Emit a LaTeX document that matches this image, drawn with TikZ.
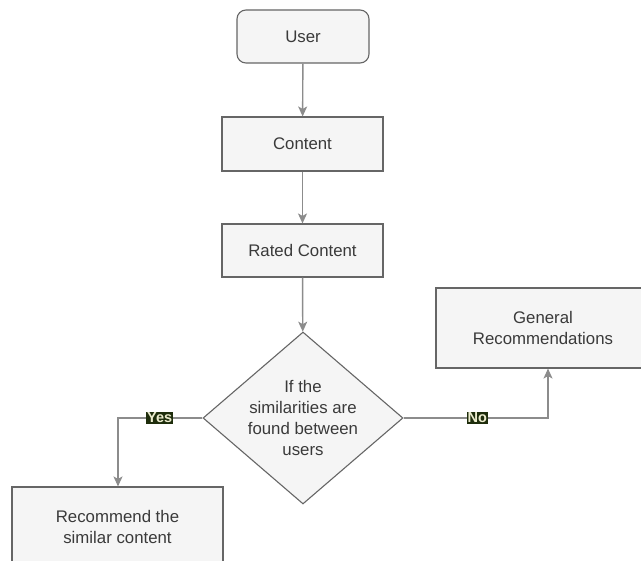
\documentclass[tikz,border=0pt]{standalone}
\usepackage{fontspec}
\setmainfont{Liberation Sans}
\usetikzlibrary{shapes.geometric,arrows.meta}
\definecolor{txt}{HTML}{3A3A3A}
\definecolor{edge}{HTML}{666666}
\definecolor{boxfill}{HTML}{F5F5F5}
\definecolor{wire}{HTML}{8C8C8C}
\definecolor{tagbg}{HTML}{1E2D0C}
\definecolor{tagfg}{HTML}{EDEDCF}
\tikzset{
  x=1pt, y=-1pt,
  stepbox/.style={draw=edge, fill=boxfill, line width=1.1pt, inner sep=0pt,
    text=txt, font=\fontsize{16.8}{21.5}\selectfont, align=center},
  arr/.style={draw=wire, line width=1.4pt,
    -{Stealth[length=10pt,width=9pt,inset=2.5pt]}},
  tag/.style={fill=tagbg, text=tagfg, inner sep=1pt,
    font=\fontsize{14.5}{15}\selectfont\bfseries}
}
\begin{document}
\begin{tikzpicture}
\useasboundingbox (0,0) rectangle (641,561);
\clip (0,0) rectangle (641,561);
\fill[white] (0,0) rectangle (641,561);

% main chain
\node[stepbox, rounded corners=9pt, minimum width=132pt, minimum height=53pt]
  (user) at (303,36.5) {User};
\node[stepbox, minimum width=161pt, minimum height=54pt]
  (content) at (302.5,144) {Content};
\node[stepbox, minimum width=161pt, minimum height=53pt]
  (rated) at (302.5,250.5) {Rated Content};

% decision
\node[diamond, draw=edge, fill=boxfill, line width=1.1pt, inner sep=0pt,
  minimum width=200pt, minimum height=172pt] (dec) at (303,418) {};
\node[text=txt, font=\fontsize{16.8}{21}\selectfont, align=center]
  (dectext) at (303,418) {If the\\similarities are\\found between\\users};

% outcomes
\node[stepbox, minimum width=214pt, minimum height=80pt]
  (gen) at (543,328) {General\\Recommendations};
\node[stepbox, minimum width=211pt, minimum height=80pt]
  (rec) at (117.5,527) {Recommend the\\similar content};

% connectors
\draw[arr] (user) -- (content);
\draw[arr] (content) -- (rated);
\draw[arr] (rated) -- (dec);
\coordinate (genin) at ([xshift=5pt]gen.south);
\draw[arr] (dec.east) -| (genin) node[tag, pos=0.255] {No};
\coordinate (recin) at ([xshift=0.5pt]rec.north);
\draw[arr] (dec.west) -| (recin) node[tag, pos=0.253] {Yes};
\end{tikzpicture}
\end{document}
